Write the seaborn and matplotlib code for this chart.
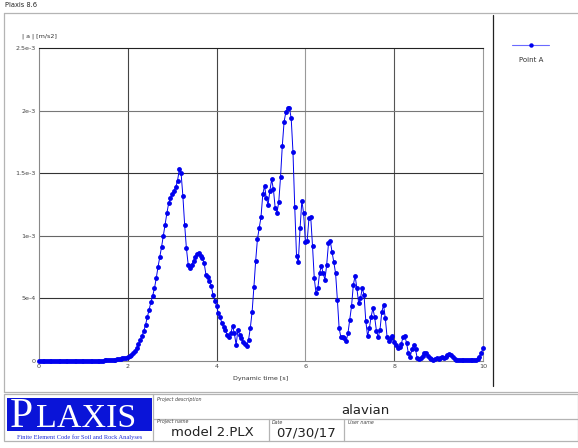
import numpy as np
import matplotlib
matplotlib.use("Agg")
import matplotlib.pyplot as plt
from matplotlib.patches import Rectangle
from matplotlib.lines import Line2D
import seaborn as sns

# ---------------- data ----------------
# time sampled every 0.04 s from 0 to 10 s (251 samples)
time_s = np.linspace(0.0, 10.0, 251)
accel = [
    # 0.00 - 0.96
    0, 0, 0, 0, 0, 0, 0, 0, 0, 0, 0, 0, 0, 0, 0, 0, 0, 0, 0, 0, 0, 0, 0, 0, 0,
    # 1.00 - 1.96
    0, 0, 0, 0, 0, 0, 1e-6, 1e-6, 2e-6, 2e-6, 3e-6, 3e-6, 4e-6, 5e-6, 6e-6, 7e-6,
    8e-6, 1.0e-5, 1.1e-5, 1.3e-5, 1.5e-5, 1.7e-5, 2.0e-5, 2.3e-5, 2.7e-5,
    # 2.00 - 2.96
    3.1e-5, 3.8e-5, 4.6e-5, 6.0e-5, 8.0e-5, 1.05e-4, 1.35e-4, 1.65e-4, 2.0e-4, 2.4e-4,
    2.9e-4, 3.5e-4, 4.1e-4, 4.7e-4, 5.2e-4, 5.8e-4, 6.6e-4, 7.5e-4, 8.3e-4, 9.1e-4,
    1.0e-3, 1.09e-3, 1.18e-3, 1.26e-3, 1.30e-3,
    # 3.00 - 3.96
    1.33e-3, 1.36e-3, 1.39e-3, 1.44e-3, 1.53e-3, 1.50e-3, 1.32e-3, 1.09e-3, 9.0e-4, 7.7e-4,
    7.4e-4, 7.7e-4, 8.0e-4, 8.3e-4, 8.55e-4, 8.6e-4, 8.4e-4, 8.2e-4, 7.8e-4, 6.9e-4,
    6.7e-4, 6.4e-4, 6.0e-4, 5.3e-4, 4.8e-4,
    # 4.00 - 4.96
    4.4e-4, 3.8e-4, 3.5e-4, 3.0e-4, 2.7e-4, 2.45e-4, 2.05e-4, 1.95e-4, 2.2e-4, 2.8e-4,
    2.2e-4, 1.28e-4, 2.48e-4, 2.1e-4, 1.8e-4, 1.5e-4, 1.35e-4, 1.2e-4, 1.7e-4, 2.66e-4,
    3.94e-4, 5.9e-4, 8.0e-4, 9.75e-4, 1.06e-3,
    # 5.00 - 5.96
    1.15e-3, 1.33e-3, 1.40e-3, 1.30e-3, 1.25e-3, 1.36e-3, 1.45e-3, 1.37e-3, 1.22e-3, 1.185e-3,
    1.27e-3, 1.47e-3, 1.72e-3, 1.91e-3, 1.99e-3, 2.02e-3, 2.02e-3, 1.94e-3, 1.67e-3, 1.23e-3,
    8.4e-4, 7.9e-4, 1.06e-3, 1.28e-3, 1.18e-3,
    # 6.00 - 6.96
    9.5e-4, 9.6e-4, 1.14e-3, 1.15e-3, 9.2e-4, 6.6e-4, 5.4e-4, 5.8e-4, 7.05e-4, 7.6e-4,
    7.0e-4, 6.5e-4, 7.7e-4, 9.4e-4, 9.6e-4, 8.7e-4, 7.9e-4, 7.0e-4, 4.9e-4, 2.6e-4,
    1.9e-4, 1.94e-4, 1.8e-4, 1.6e-4, 2.26e-4,
    # 7.00 - 7.96
    3.3e-4, 4.4e-4, 6.1e-4, 6.8e-4, 5.8e-4, 4.6e-4, 5.0e-4, 5.8e-4, 5.3e-4, 3.2e-4,
    2.0e-4, 2.6e-4, 3.54e-4, 4.2e-4, 3.5e-4, 2.4e-4, 1.9e-4, 2.5e-4, 3.9e-4, 4.5e-4,
    3.4e-4, 1.9e-4, 1.6e-4, 1.8e-4, 2.0e-4,
    # 8.00 - 8.96
    1.54e-4, 1.28e-4, 1.0e-4, 1.1e-4, 1.36e-4, 1.94e-4, 2.0e-4, 1.41e-4, 6.1e-5, 3.4e-5,
    9.3e-5, 1.28e-4, 9.3e-5, 2.1e-5, 1.4e-5, 2.1e-5, 4.0e-5, 6.6e-5, 6.1e-5, 4.0e-5,
    2.1e-5, 1.4e-5, 8e-6, 1.4e-5, 2.1e-5,
    # 9.00 - 9.96
    1.4e-5, 2.7e-5, 3.4e-5, 2.1e-5, 2.9e-5, 4.7e-5, 5.6e-5, 4.7e-5, 2.9e-5, 1.4e-5,
    8e-6, 5e-6, 5e-6, 5e-6, 5e-6, 5e-6, 5e-6, 5e-6, 5e-6, 5e-6,
    5e-6, 5e-6, 1.4e-5, 3.4e-5, 6.6e-5,
    # 10.00
    1.0e-4,
]

x_ticks = [0, 2, 4, 6, 8, 10]
x_tick_labels = ["0", "2", "4", "6", "8", "10"]
y_ticks = [0, 5e-4, 1e-3, 1.5e-3, 2e-3, 2.5e-3]
y_tick_labels = ["0", "5e-4", "1e-3", "1.5e-3", "2e-3", "2.5e-3"]
series_name = "Point A"
y_label = "| a | [m/s2]"
x_label = "Dynamic time [s]"

# ---------------- figure ----------------
sns.set_theme(style="white")
plt.rcParams["font.family"] = ["DejaVu Sans"]

W, H = 578, 448
fig = plt.figure(figsize=(W / 100, H / 100), dpi=100)
fig.patch.set_facecolor("white")

# decoration layer in pixel coordinates
deco = fig.add_axes([0, 0, 1, 1], zorder=0)
deco.set_xlim(0, W)
deco.set_ylim(H, 0)
deco.axis("off")

grey = "#b4b4b4"
deco.text(5, 5, "Plaxis 8.6", fontsize=4.8, color="#222222", va="center", ha="left")
# outer frame of chart region
deco.plot([4, 578], [13, 13], color=grey, lw=0.9)
deco.plot([4, 4], [13, 392], color=grey, lw=0.9)
deco.plot([4, 578], [392, 392], color=grey, lw=0.9)
# separator between plot and legend
deco.plot([493, 493], [15, 386], color="#222222", lw=0.9)

# legend
deco.add_line(Line2D([512, 549], [45, 45], color="#6a6aff", lw=0.8))
deco.plot([531], [45], marker="o", color="#0000ee", markersize=3.2, markeredgewidth=0)
deco.text(531, 60, series_name, fontsize=5, color="#333333", ha="center", va="center")

# axis label texts
deco.text(22, 36, y_label, fontsize=4.6, color="#333333", ha="left", va="center")

# bottom panel
deco.add_patch(Rectangle((4, 394), 574, 47, fill=False, edgecolor=grey, lw=0.9))
deco.add_patch(Rectangle((7, 398), 145, 33, facecolor="#0a14d8", edgecolor="none"))
deco.text(10, 417, "P", fontsize=30, color="white", family="Liberation Serif",
          ha="left", va="center")
deco.text(36, 418.5, "LAXIS", fontsize=24.5, color="white", family="Liberation Serif",
          ha="left", va="center")
deco.text(79.5, 437, "Finite Element Code for Soil and Rock Analyses", fontsize=4.6,
          color="#1a2ad8", family="Liberation Serif", ha="center", va="center")
deco.plot([153, 153], [394, 441], color=grey, lw=0.9)
deco.plot([153, 578], [419, 419], color=grey, lw=0.9)
deco.plot([269, 269], [419, 441], color=grey, lw=0.9)
deco.plot([344, 344], [419, 441], color=grey, lw=0.9)
deco.text(157, 399, "Project description", fontsize=3.4, style="italic", color="#444444",
          ha="left", va="center")
deco.text(365, 411, "alavian", fontsize=9.5, color="#222222", ha="center", va="center")
deco.text(157, 422, "Project name", fontsize=3.4, style="italic", color="#444444",
          ha="left", va="center")
deco.text(212, 433, "model 2.PLX", fontsize=9.5, color="#222222", ha="center", va="center")
deco.text(272, 422, "Date", fontsize=3.4, style="italic", color="#444444",
          ha="left", va="center")
deco.text(306, 433, "07/30/17", fontsize=9.5, color="#222222", ha="center", va="center")
deco.text(348, 422, "User name", fontsize=3.4, style="italic", color="#444444",
          ha="left", va="center")

# main plot
left, right, top, bottom = 39, 483, 48, 361
ax = fig.add_axes([left / W, 1 - bottom / H, (right - left) / W, (bottom - top) / H], zorder=2)
ax.set_facecolor("white")

sns.lineplot(x=time_s, y=accel, ax=ax, color="#0000ee", lw=0.7, marker="o",
             markersize=3.5, markeredgewidth=0, markerfacecolor="#0000ee", zorder=3,
             clip_on=False)

ax.set_xlim(0, 10)
ax.set_ylim(0, 2.5e-3)
ax.set_xticks(x_ticks)
ax.set_xticklabels(x_tick_labels)
ax.set_yticks(y_ticks)
ax.set_yticklabels(y_tick_labels)
ax.tick_params(axis="both", length=0, labelsize=4.6, labelcolor="#444444", pad=2.5)
ax.set_xlabel(x_label, fontsize=4.6, color="#333333", labelpad=5)
ax.set_ylabel("")

for v, c in zip([2, 4, 6, 8], ["#444444", "#444444", "#999999", "#555555"]):
    ax.axvline(v, color=c, lw=0.8, zorder=1)
for v, c in zip([5e-4, 1e-3, 1.5e-3, 2e-3], ["#333333", "#666666", "#333333", "#777777"]):
    ax.axhline(v, color=c, lw=0.8, zorder=1)

for side in ["left", "right", "bottom", "top"]:
    ax.spines[side].set_visible(True)
    ax.spines[side].set_linewidth(0.8)
ax.spines["top"].set_color("#222222")
ax.spines["left"].set_color("#888888")
ax.spines["right"].set_color("#999999")
ax.spines["bottom"].set_color("#888888")

fig.savefig("out.png", dpi=100, facecolor="white")
